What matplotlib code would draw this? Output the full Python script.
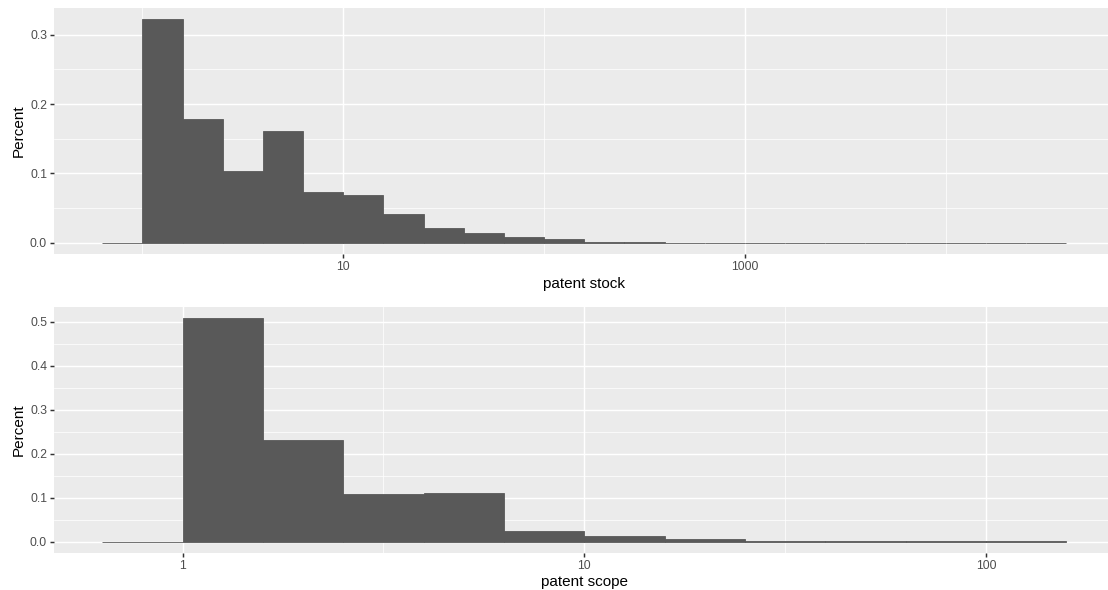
import numpy as np
import matplotlib
matplotlib.use("Agg")
import matplotlib.pyplot as plt
from matplotlib.ticker import FixedLocator, FixedFormatter, NullFormatter

plt.rcParams['font.family'] = ['Liberation Sans', 'DejaVu Sans']

# ---- data: log10 bin edges and bin shares ----
stock_log_edges = [-0.2, 0.0, 0.2, 0.4, 0.6, 0.8, 1.0, 1.2, 1.4, 1.6, 1.8, 2.0, 2.2,
                   2.4, 2.6, 2.8, 3.0, 3.2, 3.4, 3.6, 3.8, 4.0, 4.2, 4.4, 4.6]
stock_share = [0.0, 0.3225, 0.1786, 0.103, 0.161, 0.0727, 0.0684, 0.041, 0.022,
               0.0148, 0.0077, 0.0048, 0.0019, 0.0006, 0.0003, 0.0002, 0.0001,
               0.00008, 0.00005, 0.00004, 0.00003, 0.00002, 0.0, 0.00001]
stock_ticks = [10, 1000]
stock_tick_labels = ["10", "1000"]

scope_log_edges = [-0.2, 0.0, 0.2, 0.4, 0.6, 0.8, 1.0, 1.2, 1.4, 1.6, 1.8, 2.0, 2.2]
scope_share = [0.0, 0.508, 0.230, 0.108, 0.110, 0.0235, 0.012, 0.0053, 0.0005,
               0.0003, 0.0002, 0.0001]
scope_ticks = [1, 10, 100]
scope_tick_labels = ["1", "10", "100"]

# ---- style ----
BG = "#EBEBEB"
BAR = "#595959"
TICKTXT = "#4D4D4D"
TICKCOL = "#333333"
W, H = 1108, 590
DPI = 100

fig = plt.figure(figsize=(W / DPI, H / DPI), dpi=DPI)


def panel(rect_px, log_edges, share, ticks, tick_labels, xlabel):
    left, top, right, bottom = rect_px
    ax = fig.add_axes([left / W, 1 - bottom / H, (right - left) / W, (bottom - top) / H])
    ax.set_facecolor(BG)
    for s in ax.spines.values():
        s.set_visible(False)
    ax.set_xscale('log')
    edges = 10 ** np.asarray(log_edges)
    lo, hi = edges[:-1], edges[1:]
    ax.bar(lo, share, width=hi - lo, align='edge', color=BAR,
           edgecolor=BAR, linewidth=0.6, zorder=3)
    # limits with 5% expansion (ggplot style)
    lmin, lmax = log_edges[0], log_edges[-1]
    span = lmax - lmin
    ax.set_xlim(10 ** (lmin - 0.05 * span), 10 ** (lmax + 0.05 * span))
    ymax = max(share)
    ax.set_ylim(-0.05 * ymax, ymax * 1.05)
    # x ticks
    ax.xaxis.set_major_locator(FixedLocator(ticks))
    ax.xaxis.set_major_formatter(FixedFormatter(tick_labels))
    lt = np.log10(ticks)
    step = lt[1] - lt[0]
    minors = [10 ** (v) for v in np.arange(lt[0] - step * 1.5, lt[-1] + step * 1.6, step)]
    minors = [m for m in minors if min(abs(np.log10(m) - t) for t in lt) > 1e-6]
    ax.xaxis.set_minor_locator(FixedLocator(minors))
    ax.xaxis.set_minor_formatter(NullFormatter())
    # y ticks
    yt = np.arange(0, ymax * 1.05, 0.1)
    ax.yaxis.set_major_locator(FixedLocator(yt))
    ax.yaxis.set_major_formatter(FixedFormatter([f"{v:.1f}" for v in yt]))
    ax.yaxis.set_minor_locator(FixedLocator(np.arange(0.05, ymax * 1.05, 0.1)))
    ax.grid(which='major', color='white', linewidth=1.07, zorder=0)
    ax.grid(which='minor', color='white', linewidth=0.53, zorder=0)
    ax.set_axisbelow(True)
    ax.tick_params(which='major', length=2.75, width=1.07, color=TICKCOL,
                   labelsize=8.8, labelcolor=TICKTXT, pad=2.2)
    ax.tick_params(which='minor', length=0)
    ax.set_xlabel(xlabel, fontsize=11, color='black', labelpad=2.75)
    ax.set_ylabel("Percent", fontsize=11, color='black', labelpad=2.75)
    return ax


panel((54, 8, 1114.5, 254), stock_log_edges, stock_share, stock_ticks,
      stock_tick_labels, "patent stock")
panel((54, 307, 1114.5, 552.7), scope_log_edges, scope_share, scope_ticks,
      scope_tick_labels, "patent scope")

fig.savefig("out.png", dpi=DPI)
